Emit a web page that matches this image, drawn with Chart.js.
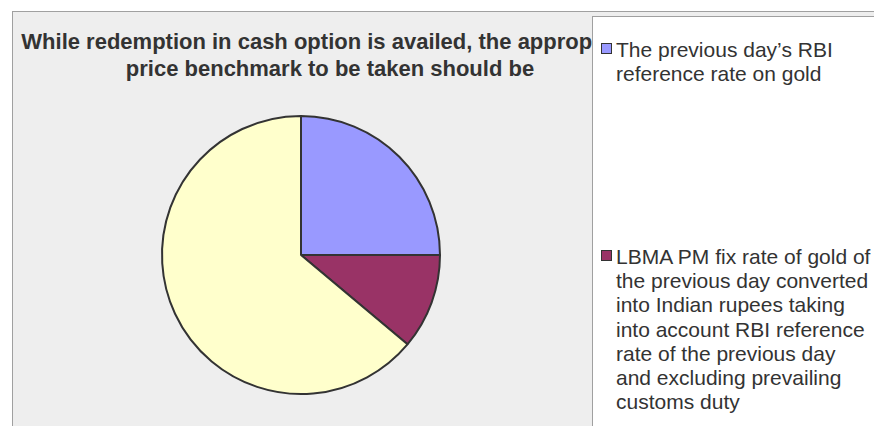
<!DOCTYPE html>
<html>
<head>
<meta charset="utf-8">
<script src="https://cdn.jsdelivr.net/npm/chart.js@4.4.0/dist/chart.umd.min.js"></script>
<style>
    html, body { margin: 0; padding: 0; background: #ffffff; }
    body { width: 874px; height: 426px; overflow: hidden; position: relative; font-family: "Liberation Sans", Arial, sans-serif; }
    #frame { position: absolute; left: 12px; top: 11px; width: 900px; height: 450px; background: #eeeeee; border: 1px solid #a0a0a0; box-sizing: border-box; }
    #chart-title { position: absolute; left: 0; width: 660px; top: 28px; text-align: center; font-weight: bold; font-size: 22px; line-height: 27px; color: #333333; white-space: nowrap; }
    #chart-wrap { position: absolute; left: 0; top: 0; width: 874px; height: 426px; }
    #legend { position: absolute; left: 592px; top: 16px; width: 400px; height: 500px; background: #ffffff; border: 1px solid #a0a0a0; box-sizing: border-box; }
    .legend-item { position: absolute; left: 0; font-size: 21px; line-height: 24.2px; color: #333333; }
    .legend-swatch { position: absolute; left: 8px; width: 11px; height: 11px; border: 1.5px solid #333333; box-sizing: border-box; }
    .legend-text { position: absolute; left: 23px; white-space: nowrap; }
</style>
</head>
<body>
<div id="frame"></div>
<div id="chart-title"></div>
<div id="chart-wrap"><canvas id="pie-chart" width="874" height="426"></canvas></div>
<div id="legend"></div>

<script>
// Survey answers and the number of respondents who picked each one
const titleLines = [
    'While redemption in cash option is availed, the appropriate',
    'price benchmark to be taken should be'
];
const answerLabels = [
    ['The previous day\u2019s RBI', 'reference rate on gold'],
    ['LBMA PM fix rate of gold of', 'the previous day converted', 'into Indian rupees taking',
     'into account RBI reference', 'rate of the previous day', 'and excluding prevailing', 'customs duty'],
    ['Others']
];
const responseCounts = [9, 4, 23];
const sliceColors = ['#9999ff', '#993366', '#ffffcc'];

// Vertical offsets of each legend entry inside the legend box
const legendItemTops = [21, 228, 433];

document.getElementById('chart-title').innerHTML = titleLines.join('<br>');

/**
 * Builds the legend beside the pie from the chart's own labels and colours.
 */
function buildLegend(chart) {
    const legendElement = document.getElementById('legend');
    legendElement.innerHTML = '';
    const colors = chart.data.datasets[0].backgroundColor;
    chart.data.labels.forEach((label, i) => {
        const item = document.createElement('div');
        item.className = 'legend-item';
        item.style.top = legendItemTops[i] + 'px';
        item.innerHTML = `<div class="legend-swatch" style="top:5px;background:${colors[i]}"></div>` +
            `<div class="legend-text">${label.join('<br>')}</div>`;
        legendElement.appendChild(item);
    });
}

const ctx = document.getElementById('pie-chart').getContext('2d');
const pieChart = new Chart(ctx, {
    type: 'pie',
    data: {
        labels: answerLabels,
        datasets: [{
            data: responseCounts,
            backgroundColor: sliceColors,
            borderColor: '#333333',
            borderWidth: 2
        }]
    },
    options: {
        responsive: false,
        animation: false,
        events: [],
        layout: { padding: { left: 161, right: 433, top: 115, bottom: 31 } },
        plugins: {
            legend: { display: false },
            title: { display: false },
            tooltip: { enabled: false }
        }
    }
});

buildLegend(pieChart);
</script>
</body>
</html>
